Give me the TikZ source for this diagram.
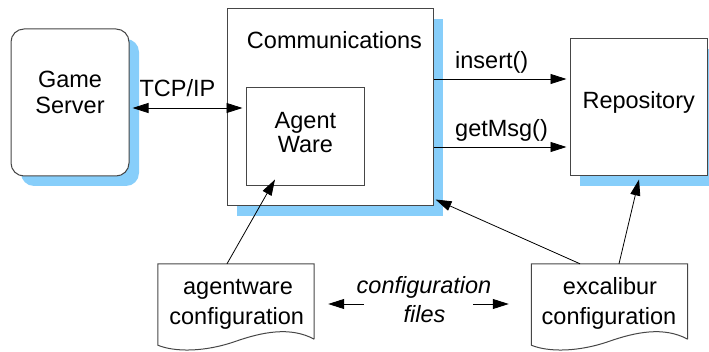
\documentclass[tikz,border=0pt]{standalone}
\usepackage{fontspec}
\setmainfont{Liberation Sans}
\usetikzlibrary{arrows.meta,calc,shadows}
\definecolor{shadeblue}{RGB}{135,206,250}
\definecolor{boxline}{RGB}{70,70,70}

% outline of a document symbol with a wavy lower edge, drawn round a node
\newcommand\docoutline[1]{%
  \draw[docline] (#1.south east) -- (#1.north east) -- (#1.north west)
    -- ($(#1.south west)+(0,6)$)
    .. controls ($(#1.south west)+(17,13)$) and ($(#1.south west)+(47,13)$) .. ($(#1.south)+(0,2)$)
    .. controls ($(#1.south)+(26,-7)$) and ($(#1.south east)+(-24,-13)$) .. (#1.south east);}

\begin{document}
\begin{tikzpicture}[x=1pt,y=-1pt,
  font=\fontsize{23.5}{26}\selectfont,
  >={Triangle[length=16pt, width=10pt]},
  box/.style={rectangle, draw=boxline, line width=1pt, fill=white, inner sep=0pt},
  shadowed/.style={drop shadow={shadow xshift=10pt, shadow yshift=-10pt,
      fill=shadeblue, opacity=1}},
  docarea/.style={rectangle, inner sep=0pt, minimum width=156pt, minimum height=75pt},
  docline/.style={draw=boxline, line width=1pt},
  txt/.style={anchor=base, inner sep=0pt},
  conn/.style={->, line width=0.8pt, black},
  dconn/.style={<->, line width=0.8pt, black},
]
\useasboundingbox (0,0) rectangle (709,352);

% boxes
\node[box, shadowed, rounded corners=13pt, minimum width=118pt, minimum height=147pt] (gs) at (70,102.5) {};
\node[box, shadowed, minimum width=206pt, minimum height=197pt] (comm) at (330,107.5) {};
\node[box, minimum width=118pt, minimum height=98pt] (aw) at (305,137) {};
\node[box, shadowed, minimum width=137pt, minimum height=137pt] (repo) at (638.5,107.5) {};

% configuration documents
\node[docarea] (awc) at (236,301.5) {};
\node[docarea] (exc) at (609.5,301.5) {};
\docoutline{awc}
\docoutline{exc}

% labels
\node[txt] (gs1) at (70,87.3) {Game};
\node[txt] (gs2) at (70,114) {Server};
\node[txt] (commlbl) at (334.5,48.3) {Communications};
\node[txt] (aw1) at (305.4,128.3) {Agent};
\node[txt] (aw2) at (305.4,152.7) {Ware};
\node[txt] (repolbl) at (638.7,108.3) {Repository};
\node[txt] (awc1) at (238,295) {agentware};
\node[txt] (awc2) at (236.7,324) {configuration};
\node[txt] (exc1) at (610,295) {excalibur};
\node[txt] (exc2) at (609,324) {configuration};
\node[txt, font=\fontsize{23.5}{26}\selectfont\itshape] (cf1) at (424,293.3) {configuration};
\node[txt, font=\fontsize{23.5}{26}\selectfont\itshape] (cf2) at (424.5,322.7) {files};
\node[txt] (tcp) at (177.5,96.7) {TCP/IP};

% connectors
\draw[dconn] ([shift={(3,5.5)}]gs.east) -- ([shift={(-3,-29)}]aw.west);
\draw[conn] ([shift={(0,-28.5)}]comm.east) -- ([shift={(-3,-28.5)}]repo.west)
  node[pos=0.16, anchor=base west, inner sep=0pt, yshift=10pt] (ins) {insert()};
\draw[conn] ([shift={(0,39.5)}]comm.east) -- ([shift={(-3,39.5)}]repo.west)
  node[pos=0.16, anchor=base west, inner sep=0pt, yshift=10pt] (gm) {getMsg()};
\draw[conn] ([shift={(-9,0)}]awc.north) -- ([shift={(-30,-7)}]aw.south);
\draw[conn] ([shift={(-29.5,0)}]exc.north) -- ([shift={(2,-7)}]comm.south east);
\draw[conn] ([shift={(9.5,0)}]exc.north) -- ([shift={(0.5,3)}]repo.south);
\draw[conn] ([shift={(-60,10.7)}]cf1.base) -- ([shift={(14,2.5)}]awc.east);
\draw[conn] ([shift={(49,10.7)}]cf1.base) -- ([shift={(-22.5,2.5)}]exc.west);
\end{tikzpicture}
\end{document}
